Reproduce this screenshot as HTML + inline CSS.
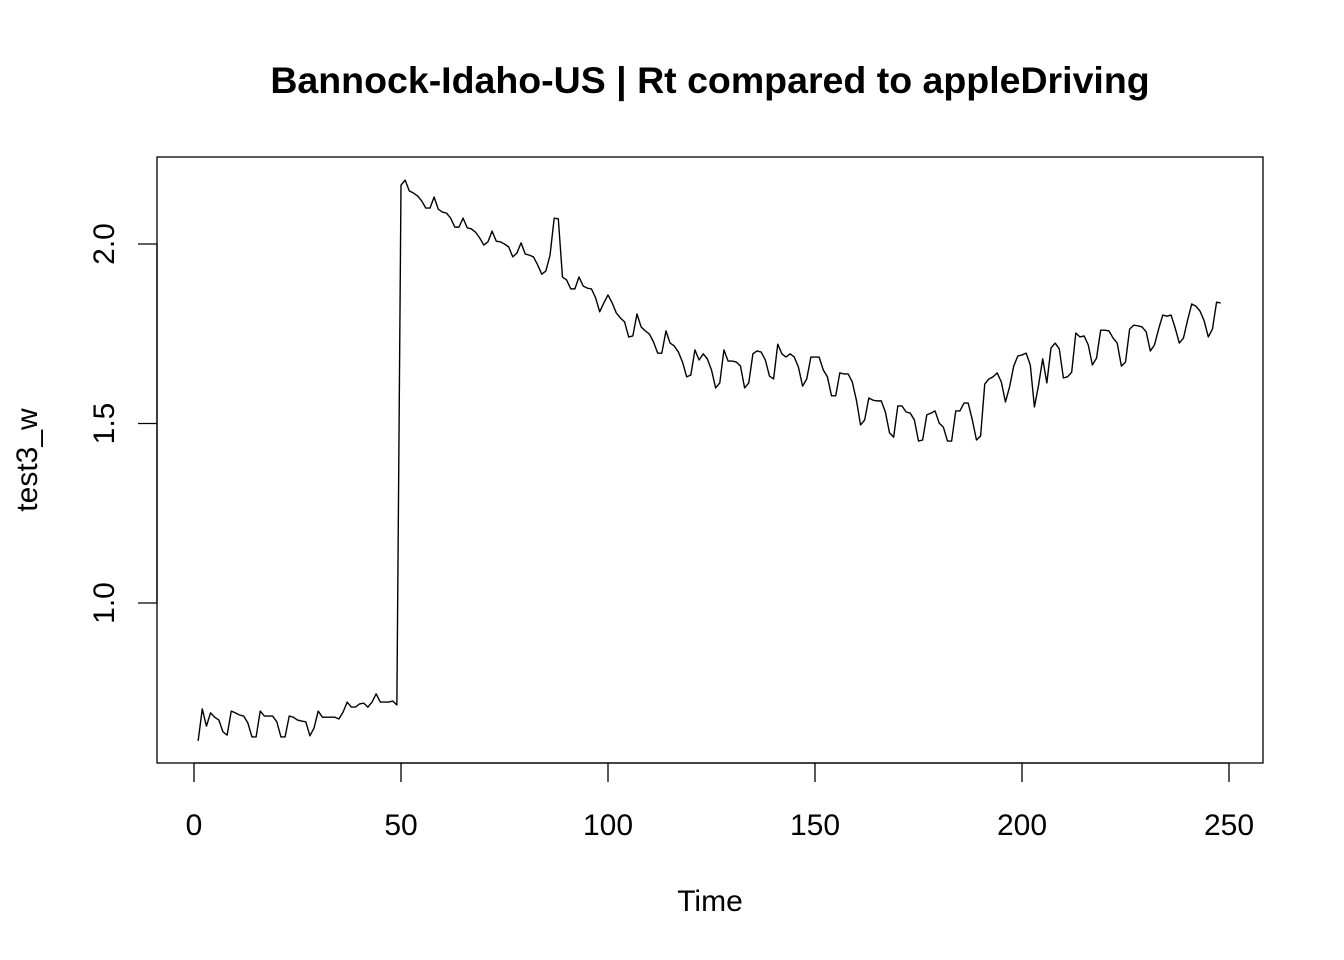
<!DOCTYPE html>
<html><head><meta charset="utf-8"><style>
html,body{margin:0;padding:0;background:#fff;}
svg{display:block;font-family:"Liberation Sans",Arial,sans-serif;}
</style></head><body>
<svg id="chart" width="1344" height="960" viewBox="0 0 1344 960" xmlns="http://www.w3.org/2000/svg">
<rect width="1344" height="960" fill="#fff"/>
<text x="710" y="93" text-anchor="middle" font-size="37.5" font-weight="bold">Bannock-Idaho-US | Rt compared to appleDriving</text>
<rect x="157" y="157" width="1106" height="606" fill="none" stroke="#000" stroke-width="1.3"/>
<text x="710" y="911" text-anchor="middle" font-size="30">Time</text>
<text transform="translate(37,460) rotate(-90)" text-anchor="middle" font-size="30">test3_w</text>
<g id="xaxis"></g>
<g id="yaxis"></g>
<path id="series" fill="none" stroke="#000" stroke-width="1.4" stroke-linejoin="round"/>
</svg>
<script>
const xTicks = [0, 50, 100, 150, 200, 250];
const xTickLabels = ["0", "50", "100", "150", "200", "250"];
const yTicks = [1.0, 1.5, 2.0];
const yTickLabels = ["1.0", "1.5", "2.0"];
const startTime = 1;
const values = [
0.616,0.705,0.657,0.694,0.682,0.674,0.641,0.632,0.699,0.694,0.688,0.685,0.666,0.627,0.627,0.699,0.685,0.685,0.685,0.669,0.627,0.627,0.685,0.682,0.674,0.671,0.669,0.630,0.652,0.699,0.682,0.682,0.682,0.682,0.677,0.696,0.724,0.710,0.710,0.719,0.721,0.710,0.724,0.747,0.724,0.724,0.724,0.727,0.716,
2.164,2.178,2.148,2.142,2.134,2.120,2.100,2.100,2.131,2.097,2.089,2.086,2.072,2.047,2.047,2.072,2.045,2.042,2.033,2.017,1.997,2.006,2.036,2.008,2.006,2.000,1.992,1.964,1.975,2.003,1.972,1.969,1.964,1.942,1.916,1.925,1.969,2.072,2.070,1.908,1.900,1.875,1.875,1.908,1.883,1.877,1.875,1.850,1.811,1.836,1.858,
1.836,1.808,1.794,1.783,1.741,1.744,1.805,1.769,1.758,1.749,1.727,1.696,1.696,1.758,1.724,1.716,1.699,1.671,1.630,1.635,1.705,1.677,1.694,1.680,1.649,1.599,1.613,1.705,1.674,1.674,1.671,1.660,1.599,1.613,1.694,1.702,1.699,1.677,1.632,1.624,1.721,1.694,1.685,1.694,1.685,1.657,1.604,1.624,1.685,1.685,
1.685,1.649,1.630,1.577,1.577,1.641,1.638,1.638,1.616,1.565,1.496,1.510,1.571,1.565,1.563,1.563,1.532,1.474,1.462,1.549,1.549,1.532,1.529,1.510,1.451,1.454,1.524,1.529,1.535,1.501,1.490,1.451,1.451,1.535,1.535,1.557,1.557,1.510,1.454,1.465,1.610,1.624,1.630,1.641,1.616,1.560,1.602,1.660,1.688,1.691,
1.696,1.663,1.546,1.607,1.680,1.613,1.710,1.724,1.708,1.627,1.630,1.643,1.752,1.741,1.744,1.719,1.663,1.682,1.760,1.760,1.758,1.738,1.724,1.660,1.671,1.763,1.774,1.772,1.769,1.755,1.702,1.719,1.763,1.802,1.799,1.802,1.766,1.724,1.738,1.788,1.833,1.827,1.813,1.786,1.741,1.763,1.838,1.836
];
const NS = "http://www.w3.org/2000/svg";
function xScale(t){ return 194 + (t - 0) * (1229 - 194) / 250; }
function yScale(v){ return 603 - (v - 1.0) * (603 - 244) / 1.0; }
const xg = document.getElementById('xaxis');
const xl = document.createElementNS(NS,'line');


xl.setAttribute('x1',xScale(xTicks[0])); xl.setAttribute('x2',xScale(xTicks[xTicks.length-1]));
xl.setAttribute('y1',763); xl.setAttribute('y2',763); xl.setAttribute('stroke','#000'); xl.setAttribute('stroke-width','1.3');
xg.appendChild(xl);
xTicks.forEach((t,i)=>{
  const l = document.createElementNS(NS,'line');
  
  
  l.setAttribute('x1',xScale(t)); l.setAttribute('x2',xScale(t));
  l.setAttribute('y1',763); l.setAttribute('y2',782); l.setAttribute('stroke','#000'); l.setAttribute('stroke-width','1.3');
  xg.appendChild(l);
  const tx = document.createElementNS(NS,'text');
  
  
  tx.setAttribute('x',xScale(t)); tx.setAttribute('y',835); tx.setAttribute('text-anchor','middle'); tx.setAttribute('font-size','30');
  tx.textContent = xTickLabels[i];
  xg.appendChild(tx);
});
const yg = document.getElementById('yaxis');
const yl = document.createElementNS(NS,'line');


yl.setAttribute('x1',157); yl.setAttribute('x2',157);
yl.setAttribute('y1',yScale(yTicks[0])); yl.setAttribute('y2',yScale(yTicks[yTicks.length-1]));
yl.setAttribute('stroke','#000'); yl.setAttribute('stroke-width','1.3');
yg.appendChild(yl);
yTicks.forEach((v,i)=>{
  const l = document.createElementNS(NS,'line');
  
  
  l.setAttribute('x1',138); l.setAttribute('x2',157);
  l.setAttribute('y1',yScale(v)); l.setAttribute('y2',yScale(v)); l.setAttribute('stroke','#000'); l.setAttribute('stroke-width','1.3');
  yg.appendChild(l);
  const tx = document.createElementNS(NS,'text');
  
  
  tx.setAttribute('transform','translate(114,'+yScale(v)+') rotate(-90)');
  tx.setAttribute('text-anchor','middle'); tx.setAttribute('font-size','30');
  tx.textContent = yTickLabels[i];
  yg.appendChild(tx);
});
let d = '';
values.forEach((v,i)=>{
  d += (i===0?'M':'L') + xScale(startTime+i).toFixed(2) + ',' + yScale(v).toFixed(2) + ' ';
});
document.getElementById('series').setAttribute('d', d);
</script>
</body></html>
